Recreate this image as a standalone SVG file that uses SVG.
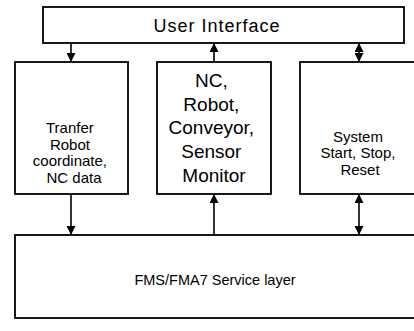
<svg xmlns="http://www.w3.org/2000/svg" width="414" height="331" viewBox="0 0 414 331">
  <defs>
    <marker id="arrow" viewBox="0 0 10 10" refX="10" refY="5" markerWidth="9" markerHeight="9" markerUnits="userSpaceOnUse" orient="auto-start-reverse">
      <path d="M0,0 L10,5 L0,10 Z" fill="#000"/>
    </marker>
  </defs>
  <style>
    .box { fill: #fff; stroke: #000; stroke-width: 1.8; }
    .lbl { font-family: "Liberation Sans", Arial, sans-serif; fill: #000; text-anchor: middle; }
    .link { stroke: #000; stroke-width: 1.6; fill: none; }
  </style>
  <rect width="414" height="331" fill="#fff"/>

  <g id="user-interface">
    <rect class="box" x="43" y="7" width="361" height="36"/>
    <text class="lbl" x="217" y="32" font-size="18" letter-spacing="1">User Interface</text>
  </g>

  <g id="transfer-data">
    <rect class="box" x="15" y="62" width="113" height="132"/>
    <text class="lbl" font-size="15">
      <tspan x="72" y="133">Tranfer</tspan>
      <tspan x="72" y="149.5">Robot</tspan>
      <tspan x="72" y="166">coordinate,</tspan>
      <tspan x="74" y="182.5">NC data</tspan>
    </text>
  </g>

  <g id="monitor">
    <rect class="box" x="157" y="62" width="114" height="132"/>
    <text class="lbl" font-size="19">
      <tspan x="214" y="87">NC,</tspan>
      <tspan x="214" y="111">Robot,</tspan>
      <tspan x="214" y="134">Conveyor,</tspan>
      <tspan x="214" y="158">Sensor</tspan>
      <tspan x="214" y="182">Monitor</tspan>
    </text>
  </g>

  <g id="system-control">
    <rect class="box" x="300" y="62" width="120" height="132"/>
    <text class="lbl" font-size="15">
      <tspan x="360" y="141.5">System</tspan>
      <tspan x="360" y="158">Start, Stop,</tspan>
      <tspan x="360" y="174.5">Reset</tspan>
    </text>
  </g>

  <g id="service-layer">
    <rect class="box" x="15" y="235" width="405" height="83"/>
    <text class="lbl" x="215" y="284.5" font-size="14.5">FMS/FMA7 Service layer</text>
  </g>

  <g id="connectors">
    <line class="link" x1="71" y1="43" x2="71" y2="62" marker-end="url(#arrow)"/>
    <line class="link" x1="214" y1="62" x2="214" y2="43" marker-end="url(#arrow)"/>
    <line class="link" x1="359" y1="43" x2="359" y2="62" marker-start="url(#arrow)" marker-end="url(#arrow)"/>
    <line class="link" x1="71" y1="194" x2="71" y2="235" marker-end="url(#arrow)"/>
    <line class="link" x1="214" y1="235" x2="214" y2="194" marker-end="url(#arrow)"/>
    <line class="link" x1="359" y1="194" x2="359" y2="235" marker-start="url(#arrow)" marker-end="url(#arrow)"/>
  </g>
</svg>
